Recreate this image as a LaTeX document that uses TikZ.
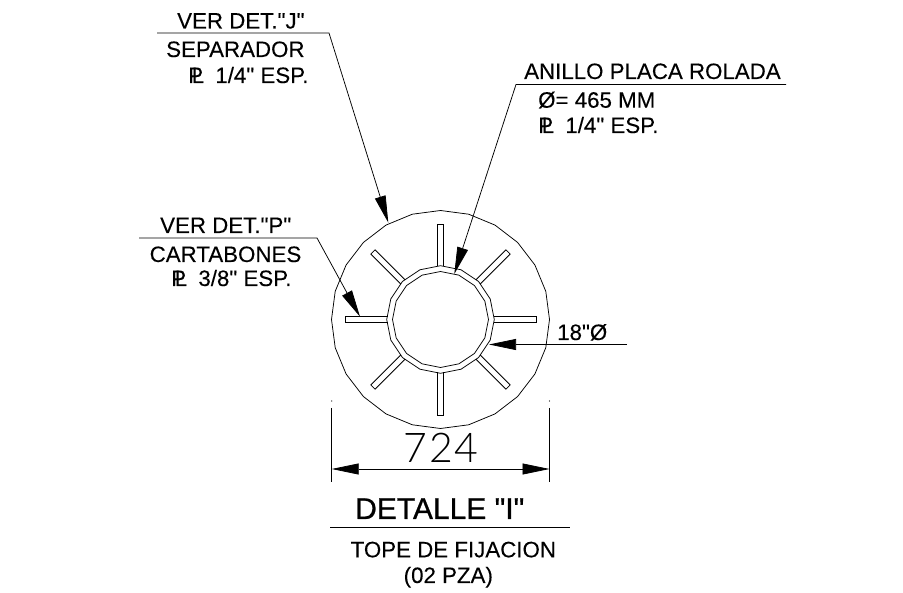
\documentclass[tikz,border=0pt]{standalone}
\usepackage{fontspec}
\setmainfont[Ligatures=TeXOff]{Liberation Sans}
\newfontfamily\dimfont[LetterSpace=4]{Lato Light}
\usetikzlibrary{arrows.meta}

\newcommand{\platesym}{\makebox[1.22em][l]{\rlap{P}\kern.16em L}}

\tikzset{
  note/.style={anchor=base west,inner sep=0pt,font=\fontsize{22.3}{22}\selectfont\addfontfeature{FakeBold=.15}},
  title/.style={anchor=base west,inner sep=0pt,font=\fontsize{30}{30}\selectfont\addfontfeature{FakeBold=.8}},
  size/.style={anchor=base,inner sep=0pt,font=\dimfont\fontsize{41}{41}\selectfont},
  outline/.style={draw=black,line width=.75pt},
  leader/.style={outline,-{Triangle[length=27pt,width=11pt]}},
  dimline/.style={outline,{Triangle[length=27pt,width=11pt]}-{Triangle[length=27pt,width=11pt]}},
}

\begin{document}
\begin{tikzpicture}[x=1pt,y=-1pt]
  \useasboundingbox (0,0) rectangle (903,593);

  \coordinate (ctr) at (440.5,319.5);

  \draw[outline,shift={(ctr)}] plot[samples at={0,15,...,345}] (\x:109pt) -- cycle;
  \draw[outline,shift={(ctr)}] plot[samples at={0,22.5,...,337.5}] (\x:53.8pt) -- cycle;
  \draw[outline,shift={(ctr)}] plot[samples at={0,22.5,...,337.5}] (\x:48pt) -- cycle;
  \foreach \a in {0,45,...,315}
    \draw[outline,shift={(ctr)},rotate=\a] (53pt,-3pt) -- (95.5pt,-3pt) -- (95.5pt,3pt) -- (53pt,3pt);

  \node[note] (detj) at (177,28.5) {VER DET."J"};
  \node[note] (sep) at (166,57) {SEPARADOR};
  \node[note] (sepesp) at (188,83) {\platesym 1/4" ESP.};
  \coordinate (j0) at (157,33);
  \coordinate (j1) at (329,33);
  \coordinate (j2) at (388.3,222.7);
  \draw[leader] (j0) -- (j1) -- (j2);

  \node[note] (anillo) at (524,79) {ANILLO PLACA ROLADA};
  \node[note] (diam) at (538,107.7) {Ø= 465 MM};
  \node[note] (anesp) at (538,133) {\platesym 1/4" ESP.};
  \coordinate (a0) at (786,84.5);
  \coordinate (a1) at (516,84.5);
  \coordinate (a2) at (454.3,274);
  \draw[leader] (a0) -- (a1) -- (a2);

  \node[note] (detp) at (160,233) {VER DET."P"};
  \node[note] (cart) at (149.5,262) {CARTABONES};
  \node[note] (caesp) at (171,286) {\platesym 3/8" ESP.};
  \coordinate (p0) at (139,238);
  \coordinate (p1) at (317,238);
  \coordinate (p2) at (360,316.7);
  \draw[leader] (p0) -- (p1) -- (p2);

  \node[note] (pipe) at (557,340) {18"Ø};
  \coordinate (s0) at (627,344.5);
  \coordinate (s1) at (489,344.5);
  \draw[leader] (s0) -- (s1);

  \coordinate (dl0) at (331.7,408);
  \coordinate (dl1) at (331.7,482);
  \coordinate (dr0) at (549.5,408);
  \coordinate (dr1) at (549.5,482);
  \coordinate (da) at (331.7,469);
  \coordinate (db) at (549.5,469);
  \draw[outline] (dl0) -- (dl1);
  \draw[outline] (dr0) -- (dr1);
  \fill (331.7,401) circle (.6pt) (549.5,401) circle (.6pt);
  \draw[dimline] (da) -- (db);
  \node[size] (len) at (441,463) {724};

  \node[title] (det) at (355,519) {DETALLE "I"};
  \coordinate (t0) at (330,527.5);
  \coordinate (t1) at (570,527.5);
  \draw[outline] (t0) -- (t1);
  \node[note] (tope) at (350.5,557.3) {TOPE DE FIJACION};
  \node[note] (pza) at (403.5,583) {(02 PZA)};
\end{tikzpicture}
\end{document}
